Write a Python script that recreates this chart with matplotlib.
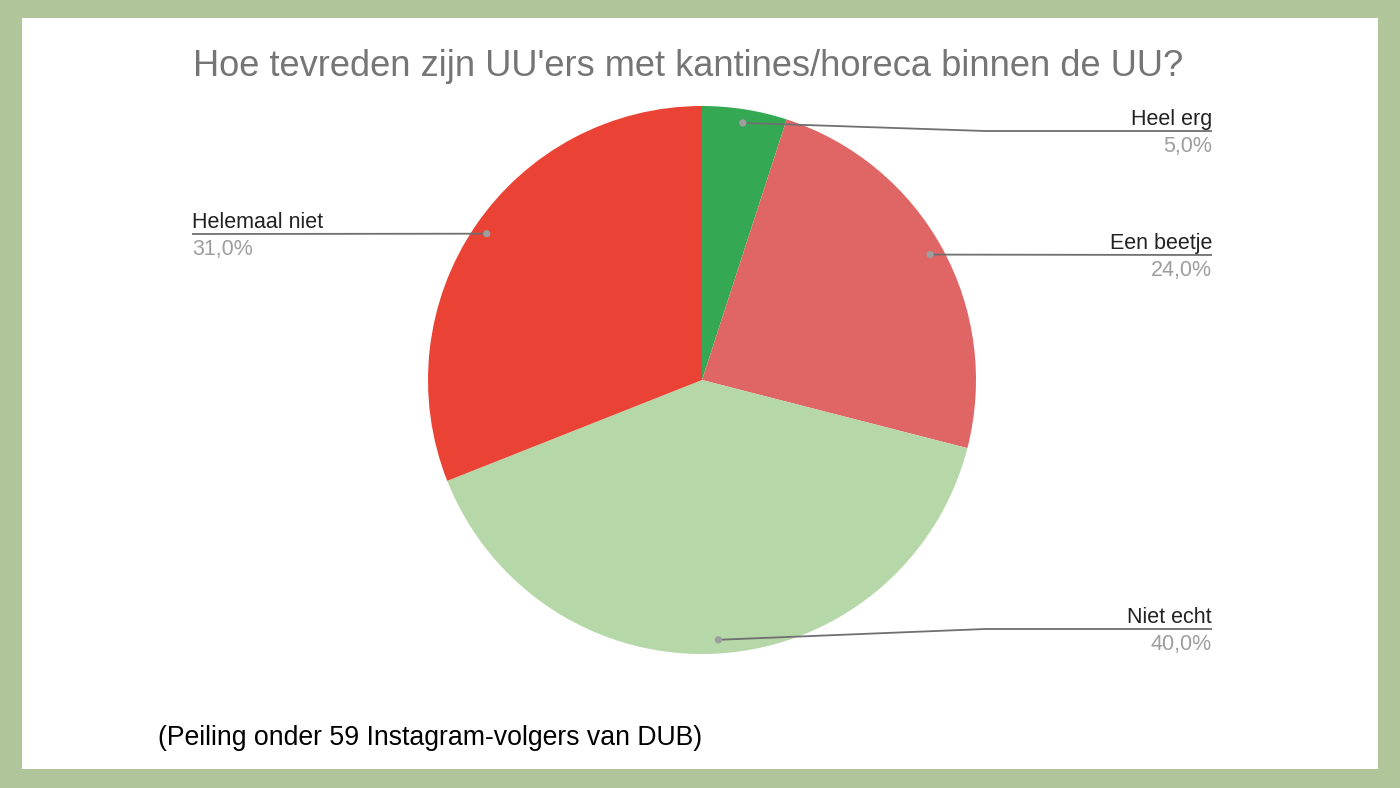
import matplotlib
matplotlib.use("Agg")
import matplotlib.pyplot as plt
from matplotlib.patches import Rectangle, Circle
import numpy as np

plt.rcParams['font.family'] = ['Liberation Sans', 'DejaVu Sans']

categories = ["Heel erg", "Een beetje", "Niet echt", "Helemaal niet"]
values = [5.0, 24.0, 40.0, 31.0]
pct_labels = ["5,0%", "24,0%", "40,0%", "31,0%"]
colors = ["#34a853", "#e06666", "#b6d7a8", "#ea4335"]

title = "Hoe tevreden zijn UU'ers met kantines/horeca binnen de UU?"
caption = "(Peiling onder 59 Instagram-volgers van DUB)"

W, H = 1400, 788
fig = plt.figure(figsize=(W / 100, H / 100), dpi=100)
fig.patch.set_facecolor("#b1c59b")
ax = fig.add_axes([0, 0, 1, 1])

def py(y):
    return H - y

cx, cy, r = 702, py(380), 274
wedges, _ = ax.pie(values, colors=colors, startangle=90, counterclock=False,
                   center=(cx, cy), radius=r, frame=True,
                   wedgeprops=dict(linewidth=0))
for w in wedges:
    w.set_zorder(2)

ax.add_patch(Rectangle((22, py(769)), 1356, 751, facecolor="white",
                       edgecolor="none", zorder=0))
ax.set_xlim(0, W)
ax.set_ylim(0, H)
ax.set_aspect("equal")
ax.axis("off")

# label layout: (side, underline y px, elbow x or None)
layout = [("right", 131, 985), ("right", 255, None), ("right", 629, 985), ("left", 234, None)]
right_x, left_x = 1212, 192
line_col = "#707070"

for w, name, pct, (side, uy, ex) in zip(wedges, categories, pct_labels, layout):
    th = np.deg2rad((w.theta1 + w.theta2) / 2)
    dx = cx + 0.95 * r * np.cos(th)
    dy = cy + 0.95 * r * np.sin(th)
    ly = py(uy)
    end_x = right_x if side == "right" else left_x
    if ex is not None:
        xs, ys = [dx, ex, end_x], [dy, ly, ly]
    else:
        xs, ys = [dx, end_x], [dy, ly]
    ax.plot(xs, ys, color=line_col, lw=1.3, zorder=3, solid_capstyle="butt")
    ax.add_patch(Circle((dx, dy), 3.6, facecolor="#9e9e9e", edgecolor="none", zorder=4))
    ha = "right" if side == "right" else "left"
    ax.text(end_x, ly + 6, name, ha=ha, va="baseline", fontsize=15.5, color="#222222", zorder=5)
    ax.text(end_x, ly - 5, pct, ha=ha, va="top", fontsize=15.5, color="#9e9e9e", zorder=5)

ax.text(688, py(66), title, ha="center", va="center", fontsize=26.1, color="#757575")
ax.text(158, py(738), caption, ha="left", va="center", fontsize=19.2, color="black")

fig.savefig("out.png", dpi=100, facecolor=fig.get_facecolor())
